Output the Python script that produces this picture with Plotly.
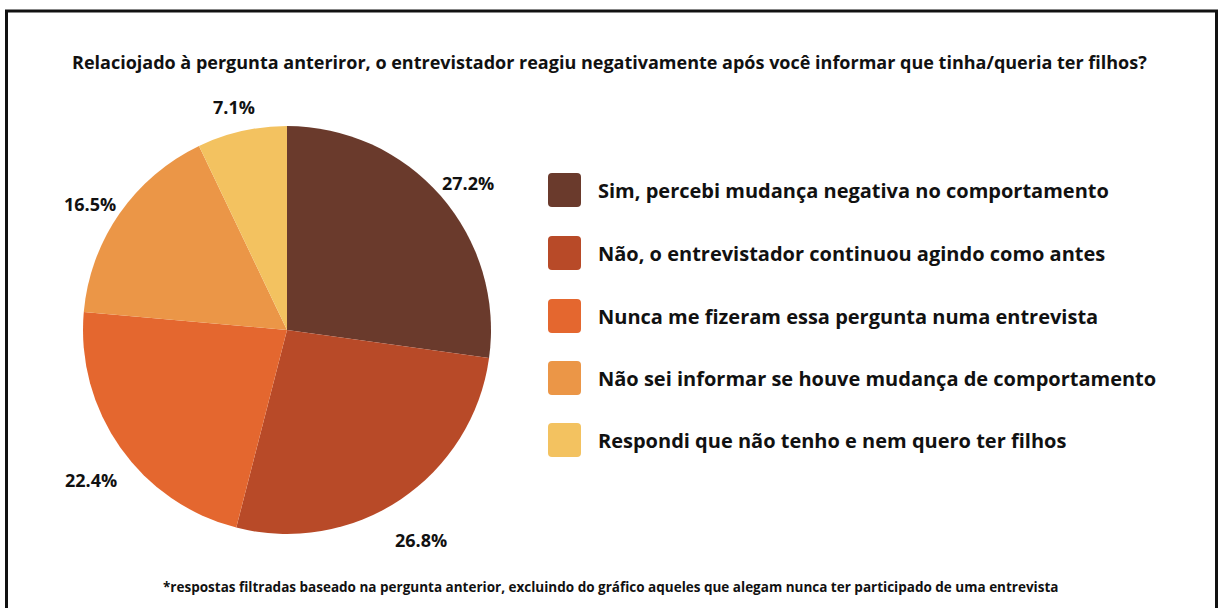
import math
import plotly.graph_objects as go

W, H = 1220, 608

title = "Relaciojado à pergunta anteriror, o entrevistador reagiu negativamente após você informar que tinha/queria ter filhos?"
footnote = "*respostas filtradas baseado na pergunta anterior, excluindo do gráfico aqueles que alegam nunca ter participado de uma entrevista"

categories = [
    "Sim, percebi mudança negativa no comportamento",
    "Não, o entrevistador continuou agindo como antes",
    "Nunca me fizeram essa pergunta numa entrevista",
    "Não sei informar se houve mudança de comportamento",
    "Respondi que não tenho e nem quero ter filhos",
]
percentages = [27.2, 26.8, 22.4, 16.5, 7.1]
colors = ["#6A3A2C", "#B84A28", "#E4672F", "#EB9647", "#F3C260"]

FONT = "Open Sans"


def px(x):
    return x / W


def py(y):
    return 1 - y / H


fig = go.Figure()

# pie placement (pixels)
cx, cy, r = 287, 330, 204
fig.add_trace(go.Pie(
    labels=categories,
    values=percentages,
    marker=dict(colors=colors, line=dict(width=0)),
    sort=False,
    direction="clockwise",
    rotation=0,
    textinfo="none",
    showlegend=False,
    hoverinfo="label+value",
    domain=dict(x=[px(cx - r), px(cx + r)], y=[py(cy + r), py(cy - r)]),
))

shapes = []
annotations = []

# percentage labels set outside each slice, along its middle angle
label_r = 240
label_dy = 11
total = sum(percentages)
cum = 0.0
for v in percentages:
    mid = (cum + v / 2) / total
    cum += v
    ang = math.radians(90 - 360 * mid)
    lx = cx + label_r * math.cos(ang)
    ly = cy - label_r * math.sin(ang) + label_dy
    annotations.append(dict(
        text=f"{v:.1f}%", xref="paper", yref="paper", x=px(lx), y=py(ly),
        xanchor="center", yanchor="middle", showarrow=False,
        font=dict(family=FONT, size=18, color="#111111", weight="bold"),
    ))

# outer frame
shapes.append(dict(type="rect", xref="paper", yref="paper",
                   x0=px(6.5), x1=px(1216.5), y0=-0.02, y1=py(11),
                   line=dict(color="#111111", width=3), fillcolor="rgba(0,0,0,0)"))

# legend with rounded swatches
lx0, lx1 = 548, 581
sw_h = 34
row_y = [190, 253, 316, 378, 440]
rad = 4
for name, col, yc in zip(categories, colors, row_y):
    y0 = yc - sw_h / 2
    y1 = yc + sw_h / 2
    path = (
        f"M {px(lx0 + rad)},{py(y0)} L {px(lx1 - rad)},{py(y0)} "
        f"Q {px(lx1)},{py(y0)} {px(lx1)},{py(y0 + rad)} "
        f"L {px(lx1)},{py(y1 - rad)} Q {px(lx1)},{py(y1)} {px(lx1 - rad)},{py(y1)} "
        f"L {px(lx0 + rad)},{py(y1)} Q {px(lx0)},{py(y1)} {px(lx0)},{py(y1 - rad)} "
        f"L {px(lx0)},{py(y0 + rad)} Q {px(lx0)},{py(y0)} {px(lx0 + rad)},{py(y0)} Z"
    )
    shapes.append(dict(type="path", xref="paper", yref="paper", path=path,
                       fillcolor=col, line=dict(width=0)))
    annotations.append(dict(
        text=name, xref="paper", yref="paper", x=px(596), y=py(yc),
        xanchor="left", yanchor="middle", showarrow=False,
        font=dict(family=FONT, size=20, color="#111111", weight="bold"),
    ))

annotations.append(dict(
    text=title, xref="paper", yref="paper", x=px(609), y=py(62),
    xanchor="center", yanchor="middle", showarrow=False,
    font=dict(family=FONT, size=18, color="#111111", weight="bold"),
))
annotations.append(dict(
    text=footnote, xref="paper", yref="paper", x=px(610), y=py(587),
    xanchor="center", yanchor="middle", showarrow=False,
    font=dict(family=FONT, size=13.5, color="#111111", weight="bold"),
))

fig.update_layout(
    width=W, height=H,
    margin=dict(l=0, r=0, t=0, b=0),
    paper_bgcolor="white",
    plot_bgcolor="white",
    shapes=shapes,
    annotations=annotations,
)

fig.write_html("out.html")
